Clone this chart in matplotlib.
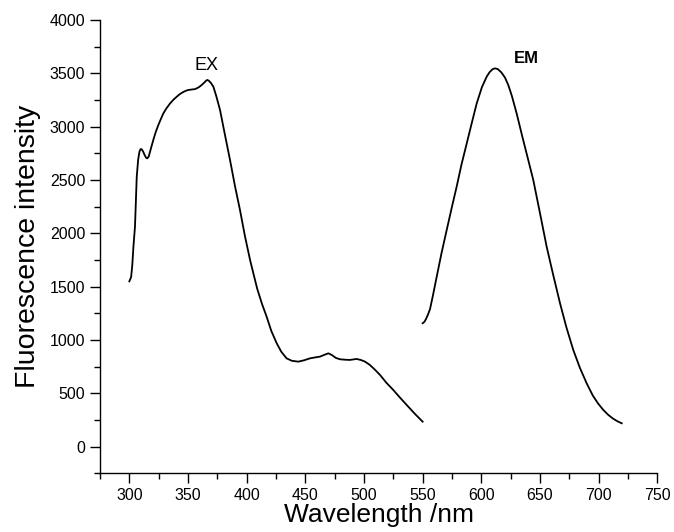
import matplotlib.pyplot as plt
from matplotlib.ticker import MultipleLocator

plt.rcParams['font.family'] = ['Liberation Sans', 'DejaVu Sans']

# excitation spectrum
ex_wl = [300.0, 301.5, 302.5, 303.5, 304.8, 306.3, 307.5, 308.6, 309.6, 310.5,
         311.6, 313.0, 314.3, 315.3, 316.5, 318.0, 320.4, 322.5, 324.5, 326.8,
         329.0, 331.5, 334.5, 337.5, 340.4, 343.0, 345.5, 348.0, 350.3, 353.0,
         356.0, 359.0, 361.7, 364.0, 365.5, 366.5, 367.8, 369.5, 371.6, 374.0,
         377.3, 381.0, 385.8, 390.0, 394.3, 398.5, 402.9, 405.7, 409.0, 413.0,
         417.0, 421.0, 425.6, 429.5, 434.0, 438.5, 444.0, 449.0, 454.0, 458.0,
         462.5, 466.5, 469.6, 472.5, 476.0, 479.6, 484.0, 488.0, 491.0, 493.8,
         497.5, 500.9, 505.0, 509.0, 513.7, 519.0, 525.0, 530.5, 536.4, 543.0,
         550.0]
ex_int = [1550, 1590, 1700, 1880, 2062, 2531, 2690, 2765, 2790, 2788,
          2770, 2735, 2708, 2703, 2720, 2780, 2875, 2950, 3010, 3070,
          3125, 3170, 3215, 3252, 3281, 3305, 3322, 3336, 3344, 3348,
          3352, 3368, 3391, 3415, 3432, 3438, 3430, 3410, 3375, 3290,
          3156, 2950, 2688, 2445, 2219, 1975, 1750, 1625, 1480, 1340,
          1219, 1085, 969, 890, 828, 805, 797, 810, 828, 836,
          844, 862, 875, 860, 832, 819, 815, 813, 818, 822,
          812, 797, 766, 725, 672, 600, 531, 462, 391, 312,
          234]

# emission spectrum
em_wl = [550.0, 551.5, 553.0, 554.6, 556.3, 559.0, 562.0, 566.0, 570.5, 575.0,
         579.0, 583.0, 587.6, 592.0, 596.1, 600.5, 604.6, 607.0, 609.5, 611.7,
         614.0, 617.0, 620.2, 623.0, 626.0, 630.1, 635.0, 640.0, 644.3, 650.0,
         655.7, 661.5, 667.1, 672.5, 678.4, 684.0, 689.8, 695.0, 699.5, 704.0,
         708.0, 712.0, 716.0, 719.7]
em_int = [1157, 1170, 1200, 1240, 1290, 1430, 1594, 1810, 2031, 2250,
          2438, 2640, 2844, 3040, 3219, 3370, 3469, 3510, 3538, 3547,
          3540, 3510, 3460, 3390, 3290, 3125, 2905, 2688, 2500, 2190,
          1875, 1600, 1344, 1120, 906, 740, 594, 480, 405, 344,
          300, 265, 238, 219]

fig = plt.figure(figsize=(6.74, 5.32), dpi=100)
ax = fig.add_axes([0.1484, 0.1103, 0.8268, 0.8521])

ax.plot(ex_wl, ex_int, color='black', lw=1.3)
ax.plot(em_wl, em_int, color='black', lw=1.3)

ax.text(365.4, 3578, 'EX', fontsize=13, ha='center', va='center')
ax.text(638, 3640, 'EM', fontsize=12, fontweight='bold', ha='center', va='center')

ax.set_xlim(275, 750)
ax.set_ylim(-250, 4000)
ax.xaxis.set_minor_locator(MultipleLocator(25))
ax.yaxis.set_minor_locator(MultipleLocator(250))
ax.set_xticks(range(300, 751, 50))
ax.set_yticks(range(0, 4001, 500))

ax.spines['top'].set_visible(False)
ax.spines['right'].set_visible(False)
for s in ['left', 'bottom']:
    ax.spines[s].set_linewidth(1.0)
ax.tick_params(which='major', direction='out', length=7, width=1.0, labelsize=11.5)
ax.tick_params(which='minor', direction='out', length=4, width=1.0)

ax.set_xlabel('Wavelength /nm', fontsize=19, labelpad=0)
ax.set_ylabel('Fluorescence intensity', fontsize=20.5, labelpad=6)

fig.savefig('out.png', dpi=100)
